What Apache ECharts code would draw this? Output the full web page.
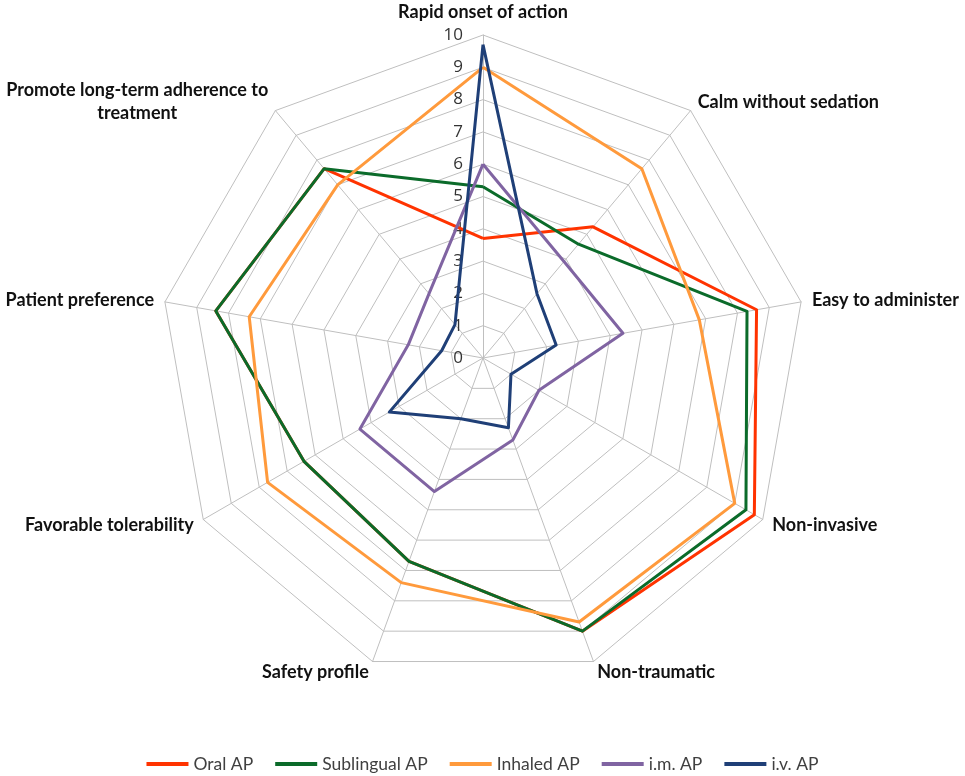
<!DOCTYPE html>
<html>
<head>
<meta charset="utf-8">
<script src="https://cdn.jsdelivr.net/npm/echarts@6/dist/echarts.min.js"></script>
<style>
html,body{margin:0;padding:0;background:#fff;}
#chart{width:965px;height:776px;}
</style>
</head>
<body>
<div id="chart"></div>
<script>
// Categories in clockwise order starting at the top
const categories = [
  'Rapid onset of action',
  'Calm without sedation',
  'Easy to administer',
  'Non-invasive',
  'Non-traumatic',
  'Safety profile',
  'Favorable tolerability',
  'Patient preference',
  'Promote long-term adherence to\ntreatment'
];
const seriesNames = ['Oral AP', 'Sublingual AP', 'Inhaled AP', 'i.m. AP', 'i.v. AP'];
const oralAP       = [3.7, 5.3, 8.6, 9.7, 9.0, 6.7, 6.4, 8.4, 7.65];
const sublingualAP = [5.3, 4.6, 8.3, 9.4, 9.0, 6.7, 6.4, 8.4, 7.65];
const inhaledAP    = [9.0, 7.65, 6.8, 9.0, 8.7, 7.4, 7.7, 7.35, 7.0];
const imAP         = [6.0, 3.9, 4.4, 2.0, 2.7, 4.4, 4.4, 2.35, 2.6];
const ivAP         = [9.7, 2.6, 2.3, 1.0, 2.3, 2.0, 3.35, 1.3, 1.35];
const tickMax = 10;
const colors = ['#FF3300', '#0B6B2A', '#FF9A3C', '#8064A2', '#1F3F77'];

// ECharts radar places indicators counter-clockwise; reorder to get clockwise layout
function cw(arr) { return [arr[0]].concat(arr.slice(1).reverse()); }

const indicator = cw(categories).map(function (name, i) {
  const ind = { name: name, min: 0, max: tickMax };
  if (i === 0) ind.axisLabel = { show: true };
  return ind;
});

const allValues = [oralAP, sublingualAP, inhaledAP, imAP, ivAP];

const chart = echarts.init(document.getElementById('chart'));
chart.setOption({
  animation: false,
  color: colors,
  legend: {
    bottom: 3,
    left: 'center',
    padding: 0,
    icon: 'rect',
    itemWidth: 42,
    itemHeight: 4,
    itemGap: 22,
    textStyle: { fontFamily: 'Lato', fontSize: 17.5, color: '#404040' },
    data: seriesNames
  },
  radar: {
    center: [483, 358],
    radius: 323,
    startAngle: 90,
    shape: 'polygon',
    splitNumber: 10,
    indicator: indicator,
    axisName: {
      formatter: function (v) {
        return v.split('\n').map(function (l) { return '{c|' + l + '}'; }).join('\n');
      },
      rich: {
        c: { align: 'center', fontFamily: 'Lato', fontWeight: 'bold', fontSize: 18, color: '#111111', lineHeight: 23 }
      }
    },
    nameGap: 11,
    splitLine: { lineStyle: { color: '#BFBFBF', width: 1 } },
    splitArea: { show: false },
    axisLine: { lineStyle: { color: '#BFBFBF', width: 1 } },
    axisTick: { show: false },
    axisLabel: { show: false, fontFamily: 'Open Sans', fontSize: 17, color: '#333333', margin: 20 }
  },
  series: [{
    type: 'radar',
    symbol: 'none',
    lineStyle: { width: 3 },
    data: allValues.map(function (vals, i) {
      return { name: seriesNames[i], value: cw(vals), lineStyle: { color: colors[i], width: 3 }, itemStyle: { color: colors[i] } };
    })
  }]
});
</script>
</body>
</html>
